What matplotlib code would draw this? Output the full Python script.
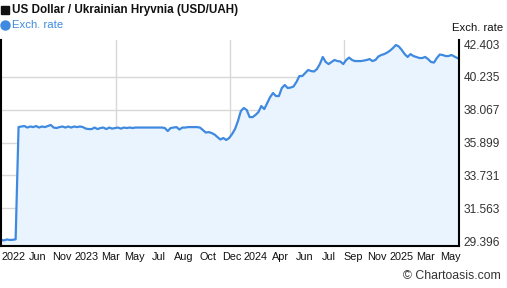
import matplotlib.pyplot as plt
from matplotlib.lines import Line2D
import numpy as np
import pandas as pd

# weekly USD/UAH values
start = '2022-06-05'
rates = [29.47, 29.44, 29.50, 29.47, 29.48, 29.51, 36.92, 36.96, 36.99, 36.89,
         36.96, 36.92, 36.99, 36.89, 36.96, 36.92, 36.99, 37.06, 36.89, 36.86,
         36.92, 36.96, 36.89, 36.96, 36.89, 36.96, 36.92, 36.96, 36.92, 36.82,
         36.79, 36.79, 36.89, 36.79, 36.86, 36.89, 36.79, 36.89, 36.82, 36.86,
         36.89, 36.82, 36.89, 36.86, 36.89, 36.86, 36.89, 36.89, 36.89, 36.89,
         36.89, 36.89, 36.89, 36.89, 36.89, 36.89, 36.86, 36.66, 36.86, 36.89,
         36.92, 36.76, 36.89, 36.89, 36.92, 36.92, 36.92, 36.92, 36.89, 36.73,
         36.56, 36.59, 36.53, 36.43, 36.26, 36.10, 36.20, 36.07, 36.20, 36.46,
         36.79, 37.32, 37.98, 38.18, 38.05, 37.58, 37.58, 37.72, 37.91, 38.31,
         38.11, 38.51, 38.90, 39.17, 38.97, 38.97, 39.50, 39.70, 39.50, 39.53,
         39.60, 39.90, 40.29, 40.29, 40.49, 40.69, 40.62, 40.59, 40.75, 41.08,
         41.55, 41.22, 41.08, 41.22, 41.35, 41.28, 41.25, 41.08, 41.35, 41.51,
         41.35, 41.28, 41.28, 41.28, 41.31, 41.35, 41.41, 41.28, 41.35, 41.58,
         41.68, 41.74, 41.84, 41.97, 42.14, 42.34, 42.24, 42.01, 41.74, 41.55,
         41.74, 41.61, 41.55, 41.48, 41.48, 41.55, 41.41, 41.22, 41.18, 41.48,
         41.71, 41.68, 41.61, 41.61, 41.68, 41.58, 41.48]
dates = pd.date_range(start, periods=len(rates), freq='W')

yticks = [29.396, 31.563, 33.731, 35.899, 38.067, 40.235, 42.403]
xlabels = ['2022', 'Jun', 'Nov', '2023', 'Mar', 'May', 'Jul', 'Aug', 'Oct', 'Dec',
           '2024', 'Apr', 'Jun', 'Jul', 'Sep', 'Nov', '2025', 'Mar', 'May']

plt.rcParams['font.family'] = ['Liberation Sans', 'DejaVu Sans']

W, H = 507, 288
fig = plt.figure(figsize=(W / 100, H / 100), dpi=100)
ax = fig.add_axes([1 / W, 42 / H, 458 / W, 206 / H])

x0 = dates[0]
x1 = dates[-1] + pd.Timedelta(days=4)
ax.set_xlim(x0, x1)
ax.set_ylim(29.07, 42.67)

span = x1 - x0
# grid
for k in (1, 2, 3):
    ax.axvline(x0 + span * k / 4, color='#d8d8d8', lw=1, zorder=0)
for v in yticks[1:-1]:
    ax.axhline(v, color='#d8d8d8', lw=1, zorder=0)

blue = '#3f8ae0'
ax.fill_between(dates, rates, 29.07, color='#eaf4fe', zorder=1)
ax.plot(dates, rates, color=blue, lw=1.6, zorder=2)

ax.spines['top'].set_visible(False)
for s in ('left', 'bottom', 'right'):
    ax.spines[s].set_color('black')
    ax.spines[s].set_linewidth(1.5)

ax.yaxis.tick_right()
ax.set_yticks(yticks)
ax.set_yticklabels(['%.3f' % v for v in yticks])
ax.tick_params(axis='y', length=0, pad=3.5, labelsize=8.6, labelcolor='#333333')

# x labels placed evenly along the axis, like the source chart
frac = np.linspace(12.5, 449, len(xlabels)) / 458
ax.set_xticks([x0 + span * f for f in frac])
ax.set_xticklabels(xlabels)
ax.tick_params(axis='x', length=0, pad=4, labelsize=7.8, labelcolor='#111111')

# legend markers
fig.add_artist(Line2D([5 / W], [1 - 10 / H], marker='s', markersize=5.8, color='#111111',
                      transform=fig.transFigure))
fig.add_artist(Line2D([5 / W], [1 - 25 / H], marker='o', markersize=6.5, color=blue,
                      transform=fig.transFigure))
fig.text(12.5 / W, 1 - 10 / H, 'US Dollar / Ukrainian Hryvnia (USD/UAH)', fontsize=8.4,
         fontweight='bold', color='#111111', va='center', ha='left')
fig.text(12.5 / W, 1 - 25 / H, 'Exch. rate', fontsize=8.2, color=blue, va='center', ha='left')
fig.text(503 / W, 1 - 28 / H, 'Exch. rate', fontsize=8.2, color='#111111', va='center', ha='right')
fig.text(501 / W, 1 - 276 / H, '\u00a9 Chartoasis.com', fontsize=8.8, color='#333333',
         va='center', ha='right')

fig.savefig('out.png', dpi=100)
